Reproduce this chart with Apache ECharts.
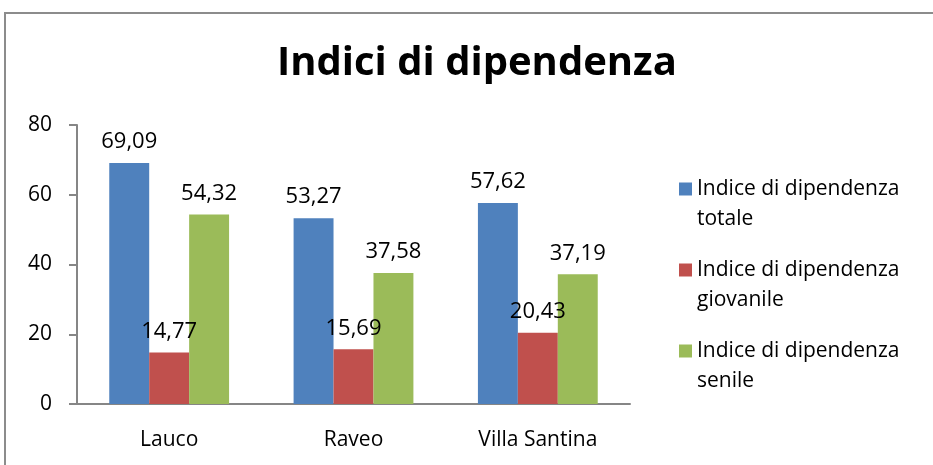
<!DOCTYPE html>
<html>
<head>
<meta charset="utf-8">
<script src="https://cdn.jsdelivr.net/npm/echarts@6/dist/echarts.min.js"></script>
<style>
  html, body, #main { width: 100%; height: 100%; margin: 0; background: #fff; }
</style>
</head>
<body>
<div id="main"></div>
<script>
  var categories = ['Lauco', 'Raveo', 'Villa Santina'];
  var seriesNames = ['Indice di dipendenza totale', 'Indice di dipendenza giovanile', 'Indice di dipendenza senile'];
  var totale = [69.09, 53.27, 57.62];
  var giovanile = [14.77, 15.69, 20.43];
  var senile = [54.32, 37.58, 37.19];
  var yTicks = [0, 20, 40, 60, 80];
  var colors = ['#4F81BD', '#C0504D', '#9BBB59'];

  var font = '"Open Sans", Lato, sans-serif';
  var chart = echarts.init(document.getElementById('main'));

  var mkSeries = function (name, values, i) {
    return {
      name: name,
      type: 'bar',
      data: values,
      barGap: '0%',
      barCategoryGap: '35%',
      itemStyle: { color: colors[i] },
      label: {
        show: true,
        position: 'top',
        distance: 10,
        color: '#000',
        fontFamily: font,
        fontSize: 22,
        formatter: function (p) { return p.value.toFixed(2).replace('.', ','); }
      }
    };
  };

  var option = {
    animation: false,
    textStyle: { fontFamily: font },
    graphic: [{
      type: 'rect',
      shape: { x: 5, y: 13, width: 1000, height: 600 },
      style: { fill: 'none', stroke: '#8c8c8c', lineWidth: 2 }
    }],
    title: {
      text: 'Indici di dipendenza',
      left: 277,
      top: 44,
      padding: 0,
      textStyle: { fontFamily: font, fontSize: 40, fontWeight: 'bold', color: '#000' }
    },
    legend: {
      orient: 'vertical',
      left: 674,
      top: 139,
      height: 320,
      itemWidth: 13,
      itemHeight: 13,
      itemGap: -9,
      icon: 'rect',
      align: 'left',
      // blank first line keeps the marker level with the first text line
      formatter: function (name) { return ' \n' + name.replace(' dipendenza ', ' dipendenza\n'); },
      textStyle: { fontFamily: font, fontSize: 21, color: '#000', lineHeight: 30 },
      data: seriesNames
    },
    grid: { left: 77, top: 125, right: 303, bottom: 61 },
    xAxis: {
      type: 'category',
      data: categories,
      axisLine: { lineStyle: { color: '#868686', width: 2 } },
      axisTick: { length: 8, lineStyle: { color: '#868686', width: 2 } },
      axisLabel: { color: '#000', fontFamily: font, fontSize: 21, margin: 26 }
    },
    yAxis: {
      type: 'value',
      min: yTicks[0],
      max: yTicks[yTicks.length - 1],
      interval: 20,
      splitLine: { show: false },
      axisLine: { show: true, lineStyle: { color: '#868686', width: 2 } },
      axisTick: { show: true, length: 8, lineStyle: { color: '#868686', width: 2 } },
      axisLabel: { color: '#000', fontFamily: font, fontSize: 21, margin: 25 }
    },
    series: [
      mkSeries(seriesNames[0], totale, 0),
      mkSeries(seriesNames[1], giovanile, 1),
      mkSeries(seriesNames[2], senile, 2)
    ]
  };
  chart.setOption(option);
</script>
</body>
</html>
